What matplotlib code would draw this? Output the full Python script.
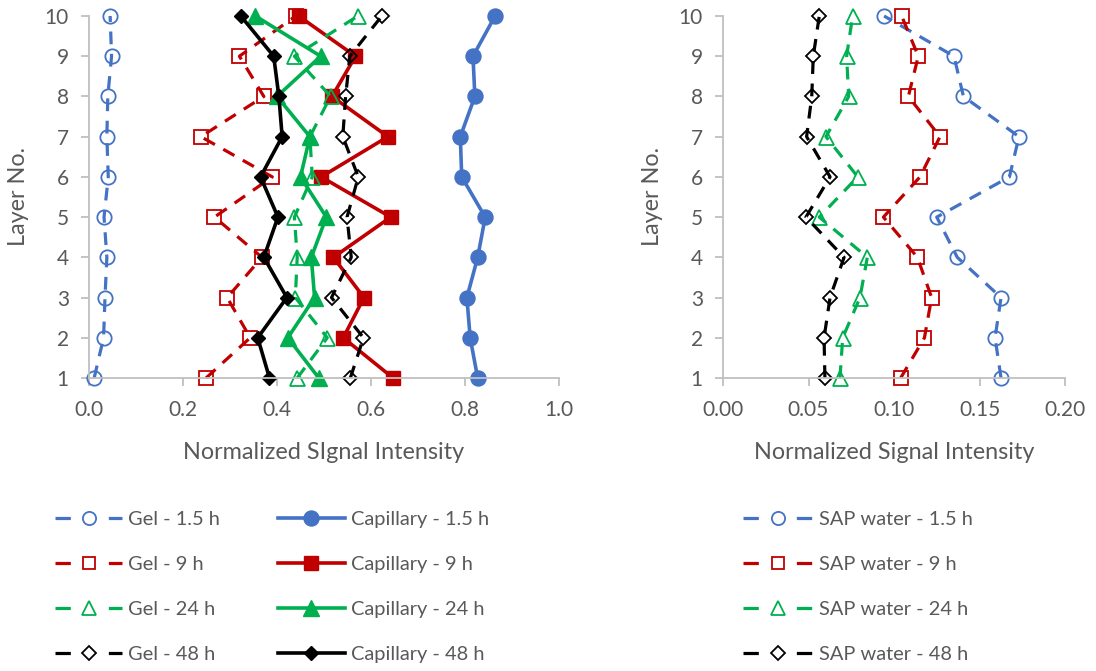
import matplotlib
matplotlib.use("Agg")
import matplotlib.pyplot as plt
from matplotlib.lines import Line2D
from matplotlib.ticker import FormatStrFormatter, MultipleLocator

plt.rcParams['font.family'] = ['Lato', 'DejaVu Sans']

layers = [1, 2, 3, 4, 5, 6, 7, 8, 9, 10]

# Left panel: gel vs capillary signal (index 0 = layer 1)
gel_1_5h = [0.011, 0.031, 0.034, 0.038, 0.032, 0.041, 0.038, 0.040, 0.048, 0.045]
cap_1_5h = [0.827, 0.811, 0.804, 0.827, 0.843, 0.793, 0.790, 0.821, 0.817, 0.864]
gel_9h = [0.249, 0.343, 0.294, 0.368, 0.267, 0.390, 0.238, 0.372, 0.320, 0.440]
cap_9h = [0.647, 0.541, 0.585, 0.520, 0.642, 0.494, 0.636, 0.517, 0.567, 0.446]
gel_24h = [0.443, 0.507, 0.439, 0.443, 0.437, 0.475, 0.470, 0.514, 0.437, 0.572]
cap_24h = [0.489, 0.423, 0.480, 0.473, 0.505, 0.450, 0.470, 0.400, 0.493, 0.354]
gel_48h = [0.556, 0.584, 0.516, 0.558, 0.549, 0.573, 0.540, 0.546, 0.555, 0.623]
cap_48h = [0.384, 0.359, 0.421, 0.372, 0.402, 0.365, 0.411, 0.404, 0.393, 0.323]

# Right panel: SAP water signal
sap_1_5h = [0.1626, 0.1591, 0.1626, 0.1370, 0.1250, 0.1675, 0.1731, 0.1406, 0.1351, 0.0942]
sap_9h = [0.1039, 0.1178, 0.1220, 0.1137, 0.0938, 0.1152, 0.1269, 0.1084, 0.1142, 0.1045]
sap_24h = [0.0684, 0.0700, 0.0801, 0.0844, 0.0563, 0.0788, 0.0602, 0.0735, 0.0723, 0.0758]
sap_48h = [0.0596, 0.0591, 0.0626, 0.0708, 0.0485, 0.0626, 0.0489, 0.0519, 0.0528, 0.0563]

BLUE, RED, GREEN, BLACK = '#4472C4', '#C00000', '#00B050', '#000000'
TXT = '#595959'
GRID = '#BFBFBF'

fig = plt.figure(figsize=(10.96, 6.71), dpi=100)
W, H = 1096, 671
ax1 = fig.add_axes([89 / W, (H - 378) / H, (559 - 89) / W, (378 - 16) / H])
ax2 = fig.add_axes([723 / W, (H - 378) / H, (1065 - 723) / W, (378 - 16) / H])

DASH = (4, 3)
# marker shape -> (matplotlib marker, open size, filled size)
styles = {
    'circle': ('o', 10.3, 10.8),
    'square': ('s', 10.0, 10.5),
    'tri': ('^', 10.8, 11.0),
    'diam': ('D', 7.6, 7.6),
}


def open_series(ax, x, color, shape, label):
    m, ms, _ = styles[shape]
    ax.plot(x, layers, color=color, lw=2.3, dashes=DASH, marker=m,
            ms=ms, mfc='none', mec=color, mew=1.3, clip_on=False, label=label)
    return Line2D([], [], color=color, lw=2.3, dashes=(4.8, 11.9), marker=m,
                  ms=ms - 0.8, mfc='none', mec=color, mew=1.3)


def solid_series(ax, x, color, shape, label):
    m, _, ms = styles[shape]
    ax.plot(x, layers, color=color, lw=2.6, marker=m, ms=ms,
            mfc=color, mec=color, clip_on=False, label=label)
    return Line2D([], [], color=color, lw=2.6, marker=m, ms=ms,
                  mfc=color, mec=color)


h_gel, h_cap = [], []
h_gel.append(open_series(ax1, gel_1_5h, BLUE, 'circle', 'Gel - 1.5 h'))
h_cap.append(solid_series(ax1, cap_1_5h, BLUE, 'circle', 'Capillary - 1.5 h'))
h_gel.append(open_series(ax1, gel_9h, RED, 'square', 'Gel - 9 h'))
h_cap.append(solid_series(ax1, cap_9h, RED, 'square', 'Capillary - 9 h'))
h_gel.append(open_series(ax1, gel_24h, GREEN, 'tri', 'Gel - 24 h'))
h_cap.append(solid_series(ax1, cap_24h, GREEN, 'tri', 'Capillary - 24 h'))
h_gel.append(open_series(ax1, gel_48h, BLACK, 'diam', 'Gel - 48 h'))
h_cap.append(solid_series(ax1, cap_48h, BLACK, 'diam', 'Capillary - 48 h'))

h_sap = []
h_sap.append(open_series(ax2, sap_1_5h, BLUE, 'circle', 'SAP water - 1.5 h'))
h_sap.append(open_series(ax2, sap_9h, RED, 'square', 'SAP water - 9 h'))
h_sap.append(open_series(ax2, sap_24h, GREEN, 'tri', 'SAP water - 24 h'))
h_sap.append(open_series(ax2, sap_48h, BLACK, 'diam', 'SAP water - 48 h'))

for ax, xmax, step, fmt, xl in [
        (ax1, 1.0, 0.2, '%.1f', 'Normalized SIgnal Intensity'),
        (ax2, 0.20, 0.05, '%.2f', 'Normalized Signal Intensity')]:
    ax.set_xlim(0, xmax)
    ax.set_ylim(1, 10)
    ax.xaxis.set_major_locator(MultipleLocator(step))
    ax.xaxis.set_major_formatter(FormatStrFormatter(fmt))
    ax.set_yticks(layers)
    for s in ('top', 'right'):
        ax.spines[s].set_visible(False)
    for s in ('left', 'bottom'):
        ax.spines[s].set_color(GRID)
        ax.spines[s].set_linewidth(1.3)
    ax.tick_params(axis='both', colors=GRID, labelcolor=TXT, labelsize=15,
                   width=1.3, length=5.5, direction='out')
    ax.tick_params(axis='x', pad=10)
    ax.tick_params(axis='y', pad=9)
    ax.set_xlabel(xl, fontsize=16.8, color=TXT, labelpad=16)
    ax.set_ylabel('Layer No.', fontsize=16.8, color=TXT, labelpad=11)

leg_kw = dict(frameon=False, fontsize=14.4, handletextpad=0.3,
              labelspacing=1.4, borderpad=0, borderaxespad=0, numpoints=1,
              labelcolor=TXT)
fig.legend(h_gel + h_cap,
           ['Gel - 1.5 h', 'Gel - 9 h', 'Gel - 24 h', 'Gel - 48 h',
            'Capillary - 1.5 h', 'Capillary - 9 h', 'Capillary - 24 h', 'Capillary - 48 h'],
           ncol=2, columnspacing=2.9, handlelength=3.35, loc='upper left',
           bbox_to_anchor=(55 / W, 1 - 511 / H), **leg_kw)
fig.legend(h_sap,
           ['SAP water - 1.5 h', 'SAP water - 9 h', 'SAP water - 24 h', 'SAP water - 48 h'],
           ncol=1, handlelength=3.5, loc='upper left',
           bbox_to_anchor=(743 / W, 1 - 511 / H), **leg_kw)

fig.savefig('out.png', dpi=100)
